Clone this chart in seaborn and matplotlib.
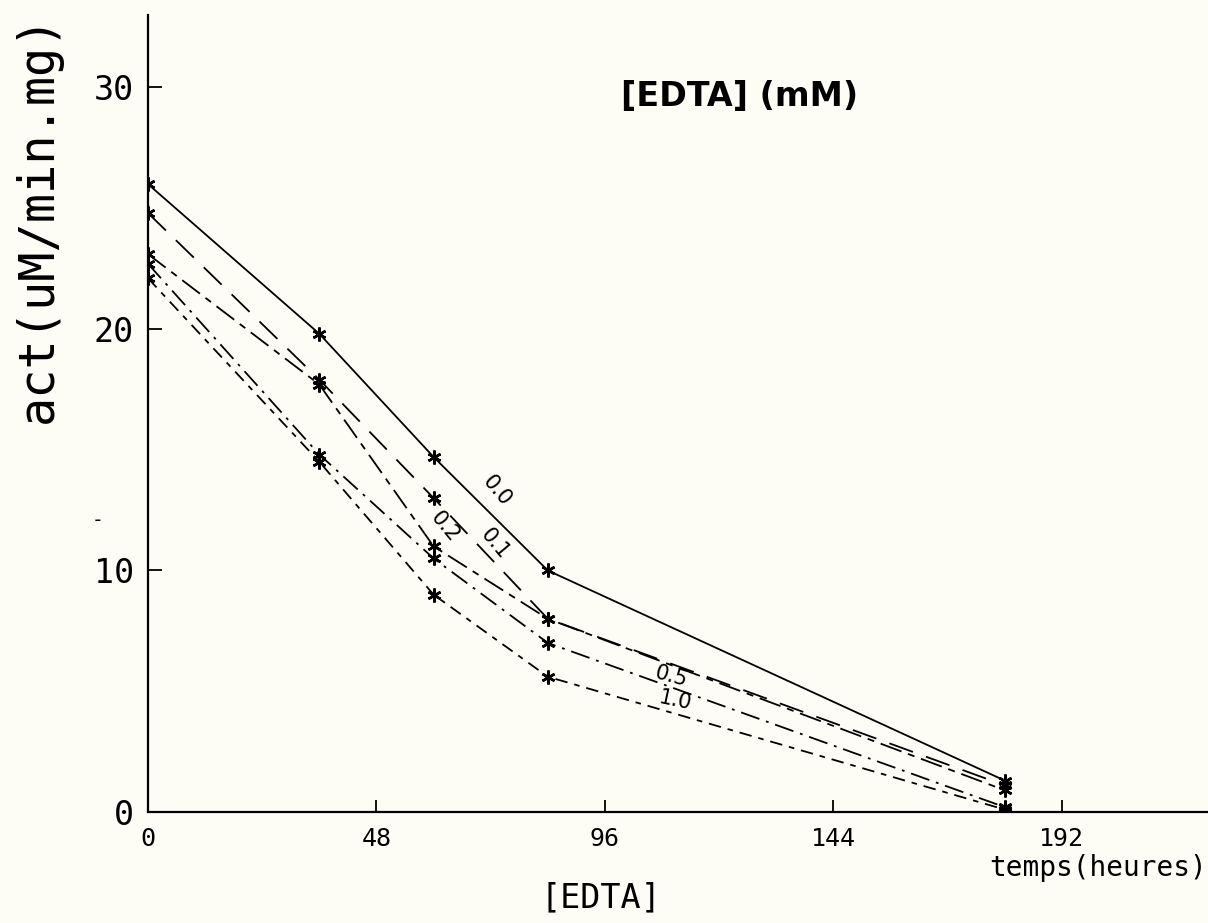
import matplotlib
matplotlib.use("Agg")
import matplotlib.pyplot as plt
import seaborn as sns
import pandas as pd
import numpy as np

# ---- data ----
hours = [0, 36, 60, 84, 180]
edta_0_0 = [26.0, 19.8, 14.7, 10.0, 1.3]
edta_0_1 = [24.8, 17.9, 13.0, 8.0, 1.1]
edta_0_2 = [23.1, 17.7, 11.0, 8.0, 0.9]
edta_0_5 = [22.7, 14.8, 10.5, 7.0, 0.2]
edta_1_0 = [22.1, 14.5, 9.0, 5.6, 0.1]
series_names = ["0.0", "0.1", "0.2", "0.5", "1.0"]
x_ticks = [0, 48, 96, 144, 192]
y_ticks = [0, 10, 20, 30]

rows = []
for name, vals in zip(series_names, [edta_0_0, edta_0_1, edta_0_2, edta_0_5, edta_1_0]):
    for h, v in zip(hours, vals):
        rows.append({"heures": h, "act": v, "EDTA": name})
df = pd.DataFrame(rows)

sns.set_theme(style="white")
plt.rcParams["font.family"] = ["DejaVu Sans Mono", "DejaVu Sans"]
plt.rcParams["lines.scale_dashes"] = False
plt.rcParams["text.color"] = "black"

bg = "#fdfdf6"
fig = plt.figure(figsize=(12.08, 9.23), dpi=100, facecolor=bg)
ax = fig.add_axes([0.1225, 0.1203, 0.8775, 0.8634], facecolor=bg)

dashes = {
    "0.0": "",
    "0.1": (18, 10),
    "0.2": (16, 5, 5, 5),
    "0.5": (14, 5, 2, 5),
    "1.0": (9, 5, 4, 5),
}
markers = {n: (6, 2, 0) for n in series_names}
sns.lineplot(data=df, x="heures", y="act", style="EDTA", dashes=dashes,
             markers=markers, color="black", linewidth=1.3, markersize=10,
             markeredgewidth=1.8, markeredgecolor="black", legend=False, ax=ax)

ax.set_xlim(0, 222.7)
ax.set_ylim(0, 33)
for s in ["top", "right"]:
    ax.spines[s].set_visible(False)
for s in ["left", "bottom"]:
    ax.spines[s].set_color("black")
    ax.spines[s].set_linewidth(1.6)

ax.set_xticks(x_ticks)
ax.set_xticks([24, 72, 120, 168, 216], minor=True)
ax.set_yticks(y_ticks)
ax.set_yticks([5, 15, 25], minor=True)
ax.set_xticklabels([str(t) for t in x_ticks])
ax.set_yticklabels([str(t) for t in y_ticks])
ax.tick_params(axis="x", which="major", direction="in", length=9, width=1.3,
               labelsize=18, pad=11, colors="black")
ax.tick_params(axis="x", which="minor", direction="in", length=5, width=1.3, colors="black")
ax.tick_params(axis="y", which="major", direction="in", length=10, width=1.3,
               labelsize=24, pad=10, colors="black")
ax.tick_params(axis="y", which="minor", direction="in", length=6, width=1.3, colors="black")
ax.tick_params(bottom=True, left=True)

ax.set_xlabel("")
ax.set_ylabel("act(uM/min.mg)", fontsize=35, color="black")
ax.yaxis.set_label_coords(-0.081, 0.745)

fig.text(0.999, 0.060, "temps(heures)", ha="right", va="center", fontsize=20,
         color="black")
fig.text(0.497, 0.027, "[EDTA]", ha="center", va="center", fontsize=24,
         color="black")
fig.text(0.6125, 0.895, "[EDTA] (mM)", ha="center", va="center", fontsize=24,
         family="DejaVu Sans", fontweight="bold", color="black")
fig.text(0.081, 0.436, "-", ha="center", va="center", fontsize=14, color="black")

# curve labels
labels_pos = {
    "0.0": (73.3, 13.3, -50),
    "0.1": (72.9, 11.1, -50),
    "0.2": (62.4, 11.8, -50),
    "0.5": (110.0, 5.6, -15),
    "1.0": (110.7, 4.6, -12),
}
for name, (lx, ly, rot) in labels_pos.items():
    ax.text(lx, ly, name, fontsize=15, rotation=rot, ha="center", va="center",
            rotation_mode="anchor", family="DejaVu Sans", color="black")

fig.savefig("out.png", dpi=100, facecolor=bg)
